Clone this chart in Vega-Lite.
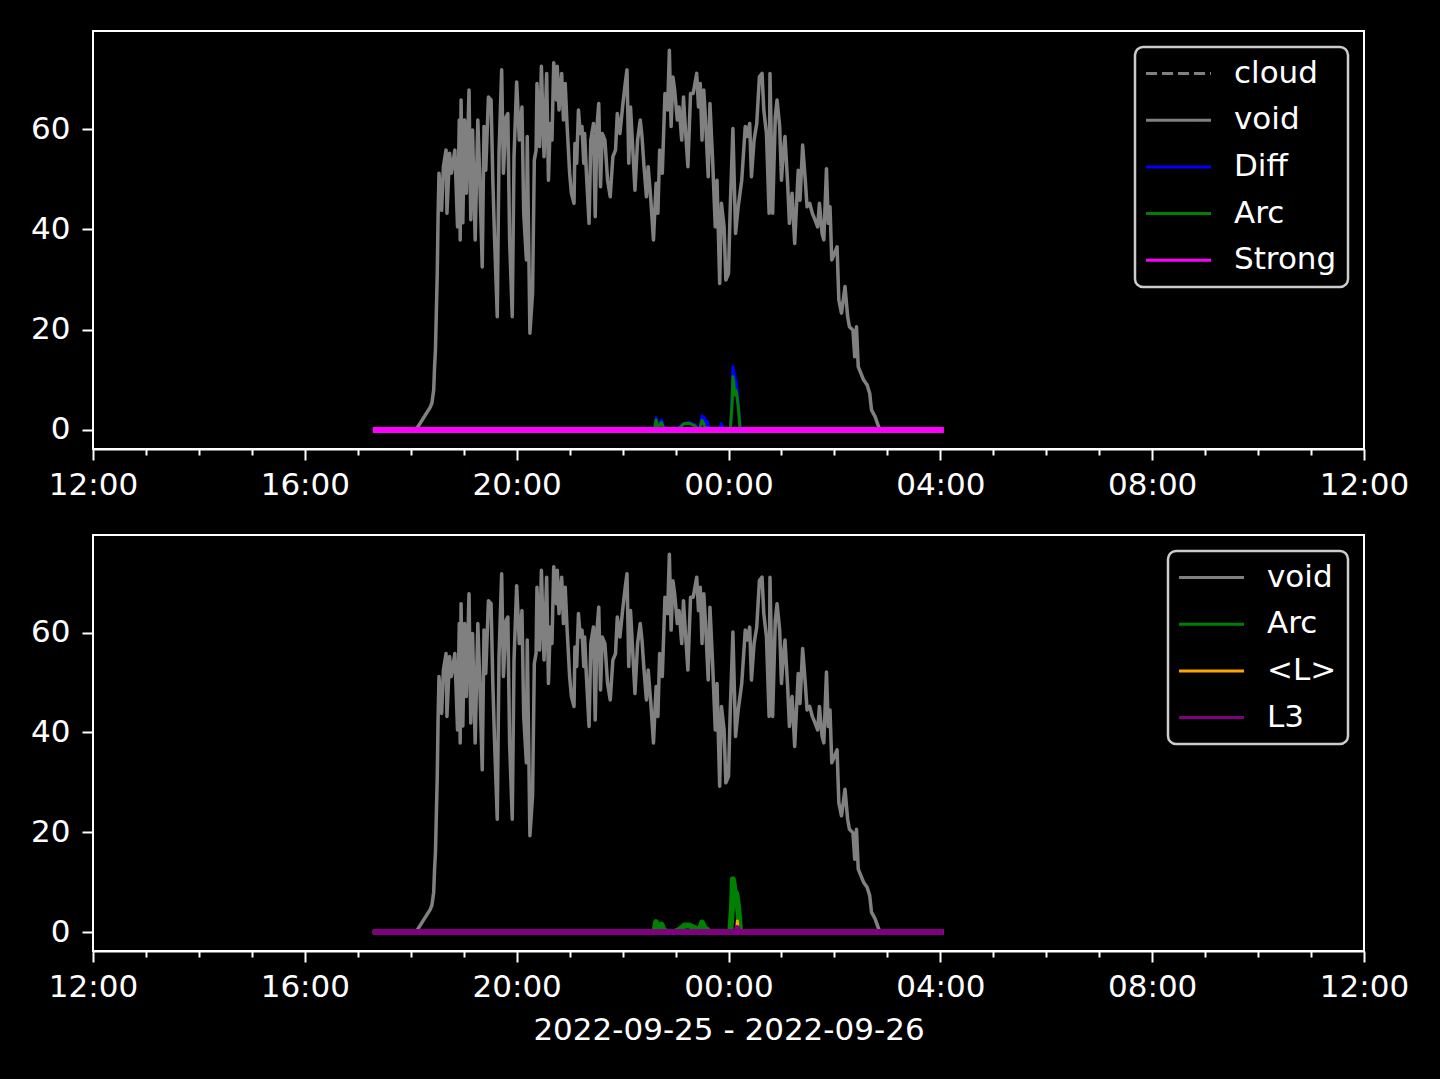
{
  "$schema": "https://vega.github.io/schema/vega-lite/v6.json",
  "background": "#000000",
  "padding": {"left": 29, "top": 30, "right": 30, "bottom": 33},
  "datasets": {
    "s_void": [
      {"t":"2022-09-25T18:05:00Z","v":0,"series":"void"},
      {"t":"2022-09-25T18:08:00Z","v":0.6,"series":"void"},
      {"t":"2022-09-25T18:13:00Z","v":2.0,"series":"void"},
      {"t":"2022-09-25T18:18:00Z","v":3.4,"series":"void"},
      {"t":"2022-09-25T18:22:00Z","v":4.5,"series":"void"},
      {"t":"2022-09-25T18:24:00Z","v":5.4,"series":"void"},
      {"t":"2022-09-25T18:26:00Z","v":8.0,"series":"void"},
      {"t":"2022-09-25T18:27:00Z","v":12.6,"series":"void"},
      {"t":"2022-09-25T18:28:00Z","v":16.0,"series":"void"},
      {"t":"2022-09-25T18:30:00Z","v":31.0,"series":"void"},
      {"t":"2022-09-25T18:31:00Z","v":43.0,"series":"void"},
      {"t":"2022-09-25T18:32:00Z","v":51.2,"series":"void"},
      {"t":"2022-09-25T18:35:00Z","v":43.8,"series":"void"},
      {"t":"2022-09-25T18:37:00Z","v":52.5,"series":"void"},
      {"t":"2022-09-25T18:40:00Z","v":55.8,"series":"void"},
      {"t":"2022-09-25T18:41:00Z","v":43.2,"series":"void"},
      {"t":"2022-09-25T18:44:00Z","v":55.2,"series":"void"},
      {"t":"2022-09-25T18:46:00Z","v":51.2,"series":"void"},
      {"t":"2022-09-25T18:50:00Z","v":55.8,"series":"void"},
      {"t":"2022-09-25T18:53:00Z","v":40.5,"series":"void"},
      {"t":"2022-09-25T18:55:00Z","v":61.8,"series":"void"},
      {"t":"2022-09-25T18:56:00Z","v":37.9,"series":"void"},
      {"t":"2022-09-25T18:57:00Z","v":65.8,"series":"void"},
      {"t":"2022-09-25T18:59:00Z","v":41.3,"series":"void"},
      {"t":"2022-09-25T19:01:00Z","v":61.8,"series":"void"},
      {"t":"2022-09-25T19:03:00Z","v":47.2,"series":"void"},
      {"t":"2022-09-25T19:06:00Z","v":67.8,"series":"void"},
      {"t":"2022-09-25T19:08:00Z","v":41.9,"series":"void"},
      {"t":"2022-09-25T19:10:00Z","v":59.8,"series":"void"},
      {"t":"2022-09-25T19:13:00Z","v":37.9,"series":"void"},
      {"t":"2022-09-25T19:16:00Z","v":61.8,"series":"void"},
      {"t":"2022-09-25T19:18:00Z","v":51.2,"series":"void"},
      {"t":"2022-09-25T19:21:00Z","v":32.5,"series":"void"},
      {"t":"2022-09-25T19:23:00Z","v":60.5,"series":"void"},
      {"t":"2022-09-25T19:25:00Z","v":51.8,"series":"void"},
      {"t":"2022-09-25T19:28:00Z","v":66.4,"series":"void"},
      {"t":"2022-09-25T19:31:00Z","v":65.8,"series":"void"},
      {"t":"2022-09-25T19:33:00Z","v":49.8,"series":"void"},
      {"t":"2022-09-25T19:35:00Z","v":37.9,"series":"void"},
      {"t":"2022-09-25T19:38:00Z","v":22.6,"series":"void"},
      {"t":"2022-09-25T19:40:00Z","v":55.2,"series":"void"},
      {"t":"2022-09-25T19:43:00Z","v":71.8,"series":"void"},
      {"t":"2022-09-25T19:45:00Z","v":51.2,"series":"void"},
      {"t":"2022-09-25T19:48:00Z","v":62.4,"series":"void"},
      {"t":"2022-09-25T19:50:00Z","v":63.1,"series":"void"},
      {"t":"2022-09-25T19:52:00Z","v":37.9,"series":"void"},
      {"t":"2022-09-25T19:55:00Z","v":22.6,"series":"void"},
      {"t":"2022-09-25T19:57:00Z","v":54.5,"series":"void"},
      {"t":"2022-09-25T20:00:00Z","v":69.4,"series":"void"},
      {"t":"2022-09-25T20:03:00Z","v":57.8,"series":"void"},
      {"t":"2022-09-25T20:06:00Z","v":64.4,"series":"void"},
      {"t":"2022-09-25T20:08:00Z","v":43.2,"series":"void"},
      {"t":"2022-09-25T20:11:00Z","v":33.9,"series":"void"},
      {"t":"2022-09-25T20:12:00Z","v":58.5,"series":"void"},
      {"t":"2022-09-25T20:15:00Z","v":19.3,"series":"void"},
      {"t":"2022-09-25T20:18:00Z","v":27.3,"series":"void"},
      {"t":"2022-09-25T20:20:00Z","v":53.8,"series":"void"},
      {"t":"2022-09-25T20:22:00Z","v":55.8,"series":"void"},
      {"t":"2022-09-25T20:23:00Z","v":69.1,"series":"void"},
      {"t":"2022-09-25T20:26:00Z","v":56.5,"series":"void"},
      {"t":"2022-09-25T20:28:00Z","v":72.5,"series":"void"},
      {"t":"2022-09-25T20:31:00Z","v":54.5,"series":"void"},
      {"t":"2022-09-25T20:34:00Z","v":71.1,"series":"void"},
      {"t":"2022-09-25T20:36:00Z","v":49.8,"series":"void"},
      {"t":"2022-09-25T20:38:00Z","v":61.1,"series":"void"},
      {"t":"2022-09-25T20:40:00Z","v":57.8,"series":"void"},
      {"t":"2022-09-25T20:42:00Z","v":73.2,"series":"void"},
      {"t":"2022-09-25T20:45:00Z","v":65.8,"series":"void"},
      {"t":"2022-09-25T20:46:00Z","v":72.5,"series":"void"},
      {"t":"2022-09-25T20:48:00Z","v":63.8,"series":"void"},
      {"t":"2022-09-25T20:51:00Z","v":71.1,"series":"void"},
      {"t":"2022-09-25T20:53:00Z","v":61.8,"series":"void"},
      {"t":"2022-09-25T20:55:00Z","v":69.1,"series":"void"},
      {"t":"2022-09-25T20:57:00Z","v":61.1,"series":"void"},
      {"t":"2022-09-25T21:00:00Z","v":51.2,"series":"void"},
      {"t":"2022-09-25T21:02:00Z","v":47.2,"series":"void"},
      {"t":"2022-09-25T21:05:00Z","v":45.2,"series":"void"},
      {"t":"2022-09-25T21:06:00Z","v":57.1,"series":"void"},
      {"t":"2022-09-25T21:08:00Z","v":53.2,"series":"void"},
      {"t":"2022-09-25T21:10:00Z","v":63.8,"series":"void"},
      {"t":"2022-09-25T21:12:00Z","v":59.1,"series":"void"},
      {"t":"2022-09-25T21:14:00Z","v":60.5,"series":"void"},
      {"t":"2022-09-25T21:16:00Z","v":53.2,"series":"void"},
      {"t":"2022-09-25T21:17:00Z","v":59.1,"series":"void"},
      {"t":"2022-09-25T21:19:00Z","v":51.2,"series":"void"},
      {"t":"2022-09-25T21:22:00Z","v":41.2,"series":"void"},
      {"t":"2022-09-25T21:24:00Z","v":57.8,"series":"void"},
      {"t":"2022-09-25T21:27:00Z","v":61.1,"series":"void"},
      {"t":"2022-09-25T21:29:00Z","v":42.5,"series":"void"},
      {"t":"2022-09-25T21:31:00Z","v":60.5,"series":"void"},
      {"t":"2022-09-25T21:33:00Z","v":65.1,"series":"void"},
      {"t":"2022-09-25T21:35:00Z","v":48.5,"series":"void"},
      {"t":"2022-09-25T21:37:00Z","v":59.1,"series":"void"},
      {"t":"2022-09-25T21:40:00Z","v":57.8,"series":"void"},
      {"t":"2022-09-25T21:43:00Z","v":49.8,"series":"void"},
      {"t":"2022-09-25T21:46:00Z","v":46.5,"series":"void"},
      {"t":"2022-09-25T21:49:00Z","v":54.5,"series":"void"},
      {"t":"2022-09-25T21:52:00Z","v":55.8,"series":"void"},
      {"t":"2022-09-25T21:54:00Z","v":63.1,"series":"void"},
      {"t":"2022-09-25T21:57:00Z","v":59.1,"series":"void"},
      {"t":"2022-09-25T22:00:00Z","v":64.4,"series":"void"},
      {"t":"2022-09-25T22:03:00Z","v":69.1,"series":"void"},
      {"t":"2022-09-25T22:05:00Z","v":71.8,"series":"void"},
      {"t":"2022-09-25T22:07:00Z","v":53.2,"series":"void"},
      {"t":"2022-09-25T22:09:00Z","v":64.4,"series":"void"},
      {"t":"2022-09-25T22:12:00Z","v":54.5,"series":"void"},
      {"t":"2022-09-25T22:14:00Z","v":47.8,"series":"void"},
      {"t":"2022-09-25T22:17:00Z","v":57.8,"series":"void"},
      {"t":"2022-09-25T22:20:00Z","v":61.8,"series":"void"},
      {"t":"2022-09-25T22:22:00Z","v":58.5,"series":"void"},
      {"t":"2022-09-25T22:24:00Z","v":53.2,"series":"void"},
      {"t":"2022-09-25T22:27:00Z","v":46.5,"series":"void"},
      {"t":"2022-09-25T22:29:00Z","v":52.5,"series":"void"},
      {"t":"2022-09-25T22:32:00Z","v":45.8,"series":"void"},
      {"t":"2022-09-25T22:35:00Z","v":37.9,"series":"void"},
      {"t":"2022-09-25T22:38:00Z","v":49.2,"series":"void"},
      {"t":"2022-09-25T22:40:00Z","v":43.2,"series":"void"},
      {"t":"2022-09-25T22:42:00Z","v":55.8,"series":"void"},
      {"t":"2022-09-25T22:45:00Z","v":51.2,"series":"void"},
      {"t":"2022-09-25T22:48:00Z","v":67.1,"series":"void"},
      {"t":"2022-09-25T22:51:00Z","v":63.8,"series":"void"},
      {"t":"2022-09-25T22:53:00Z","v":75.7,"series":"void"},
      {"t":"2022-09-25T22:55:00Z","v":60.5,"series":"void"},
      {"t":"2022-09-25T22:57:00Z","v":70.4,"series":"void"},
      {"t":"2022-09-25T22:59:00Z","v":67.8,"series":"void"},
      {"t":"2022-09-25T23:02:00Z","v":61.8,"series":"void"},
      {"t":"2022-09-25T23:04:00Z","v":64.4,"series":"void"},
      {"t":"2022-09-25T23:07:00Z","v":57.8,"series":"void"},
      {"t":"2022-09-25T23:09:00Z","v":66.4,"series":"void"},
      {"t":"2022-09-25T23:11:00Z","v":60.5,"series":"void"},
      {"t":"2022-09-25T23:14:00Z","v":52.5,"series":"void"},
      {"t":"2022-09-25T23:17:00Z","v":67.1,"series":"void"},
      {"t":"2022-09-25T23:20:00Z","v":67.1,"series":"void"},
      {"t":"2022-09-25T23:24:00Z","v":71.1,"series":"void"},
      {"t":"2022-09-25T23:26:00Z","v":64.4,"series":"void"},
      {"t":"2022-09-25T23:28:00Z","v":69.1,"series":"void"},
      {"t":"2022-09-25T23:30:00Z","v":57.8,"series":"void"},
      {"t":"2022-09-25T23:32:00Z","v":67.8,"series":"void"},
      {"t":"2022-09-25T23:34:00Z","v":61.8,"series":"void"},
      {"t":"2022-09-25T23:37:00Z","v":50.5,"series":"void"},
      {"t":"2022-09-25T23:39:00Z","v":65.1,"series":"void"},
      {"t":"2022-09-25T23:42:00Z","v":53.8,"series":"void"},
      {"t":"2022-09-25T23:45:00Z","v":40.5,"series":"void"},
      {"t":"2022-09-25T23:47:00Z","v":49.8,"series":"void"},
      {"t":"2022-09-25T23:50:00Z","v":29.2,"series":"void"},
      {"t":"2022-09-25T23:52:00Z","v":45.2,"series":"void"},
      {"t":"2022-09-25T23:55:00Z","v":40.5,"series":"void"},
      {"t":"2022-09-25T23:57:00Z","v":29.9,"series":"void"},
      {"t":"2022-09-26T00:00:00Z","v":31.2,"series":"void"},
      {"t":"2022-09-26T00:02:00Z","v":44.5,"series":"void"},
      {"t":"2022-09-26T00:05:00Z","v":60.1,"series":"void"},
      {"t":"2022-09-26T00:08:00Z","v":39.2,"series":"void"},
      {"t":"2022-09-26T00:11:00Z","v":44.5,"series":"void"},
      {"t":"2022-09-26T00:15:00Z","v":49.8,"series":"void"},
      {"t":"2022-09-26T00:19:00Z","v":60.5,"series":"void"},
      {"t":"2022-09-26T00:21:00Z","v":58.5,"series":"void"},
      {"t":"2022-09-26T00:24:00Z","v":61.1,"series":"void"},
      {"t":"2022-09-26T00:26:00Z","v":50.5,"series":"void"},
      {"t":"2022-09-26T00:29:00Z","v":57.8,"series":"void"},
      {"t":"2022-09-26T00:32:00Z","v":61.1,"series":"void"},
      {"t":"2022-09-26T00:35:00Z","v":70.4,"series":"void"},
      {"t":"2022-09-26T00:38:00Z","v":71.1,"series":"void"},
      {"t":"2022-09-26T00:40:00Z","v":63.8,"series":"void"},
      {"t":"2022-09-26T00:43:00Z","v":59.1,"series":"void"},
      {"t":"2022-09-26T00:46:00Z","v":43.2,"series":"void"},
      {"t":"2022-09-26T00:47:00Z","v":71.1,"series":"void"},
      {"t":"2022-09-26T00:50:00Z","v":43.2,"series":"void"},
      {"t":"2022-09-26T00:53:00Z","v":62.4,"series":"void"},
      {"t":"2022-09-26T00:55:00Z","v":65.8,"series":"void"},
      {"t":"2022-09-26T00:58:00Z","v":60.5,"series":"void"},
      {"t":"2022-09-26T01:00:00Z","v":49.8,"series":"void"},
      {"t":"2022-09-26T01:02:00Z","v":55.2,"series":"void"},
      {"t":"2022-09-26T01:04:00Z","v":58.5,"series":"void"},
      {"t":"2022-09-26T01:07:00Z","v":49.2,"series":"void"},
      {"t":"2022-09-26T01:09:00Z","v":41.2,"series":"void"},
      {"t":"2022-09-26T01:12:00Z","v":47.2,"series":"void"},
      {"t":"2022-09-26T01:15:00Z","v":37.2,"series":"void"},
      {"t":"2022-09-26T01:19:00Z","v":51.8,"series":"void"},
      {"t":"2022-09-26T01:21:00Z","v":45.8,"series":"void"},
      {"t":"2022-09-26T01:24:00Z","v":56.8,"series":"void"},
      {"t":"2022-09-26T01:27:00Z","v":49.8,"series":"void"},
      {"t":"2022-09-26T01:29:00Z","v":44.5,"series":"void"},
      {"t":"2022-09-26T01:32:00Z","v":45.2,"series":"void"},
      {"t":"2022-09-26T01:35:00Z","v":43.2,"series":"void"},
      {"t":"2022-09-26T01:38:00Z","v":41.9,"series":"void"},
      {"t":"2022-09-26T01:41:00Z","v":40.5,"series":"void"},
      {"t":"2022-09-26T01:43:00Z","v":45.2,"series":"void"},
      {"t":"2022-09-26T01:46:00Z","v":39.2,"series":"void"},
      {"t":"2022-09-26T01:48:00Z","v":37.9,"series":"void"},
      {"t":"2022-09-26T01:51:00Z","v":52.1,"series":"void"},
      {"t":"2022-09-26T01:53:00Z","v":41.2,"series":"void"},
      {"t":"2022-09-26T01:55:00Z","v":44.5,"series":"void"},
      {"t":"2022-09-26T01:57:00Z","v":33.9,"series":"void"},
      {"t":"2022-09-26T02:00:00Z","v":35.2,"series":"void"},
      {"t":"2022-09-26T02:03:00Z","v":36.5,"series":"void"},
      {"t":"2022-09-26T02:05:00Z","v":25.9,"series":"void"},
      {"t":"2022-09-26T02:08:00Z","v":23.3,"series":"void"},
      {"t":"2022-09-26T02:12:00Z","v":28.6,"series":"void"},
      {"t":"2022-09-26T02:15:00Z","v":22.6,"series":"void"},
      {"t":"2022-09-26T02:17:00Z","v":20.6,"series":"void"},
      {"t":"2022-09-26T02:21:00Z","v":19.9,"series":"void"},
      {"t":"2022-09-26T02:23:00Z","v":14.6,"series":"void"},
      {"t":"2022-09-26T02:25:00Z","v":20.6,"series":"void"},
      {"t":"2022-09-26T02:27:00Z","v":12.6,"series":"void"},
      {"t":"2022-09-26T02:30:00Z","v":11.3,"series":"void"},
      {"t":"2022-09-26T02:33:00Z","v":10.0,"series":"void"},
      {"t":"2022-09-26T02:37:00Z","v":9.0,"series":"void"},
      {"t":"2022-09-26T02:40:00Z","v":7.3,"series":"void"},
      {"t":"2022-09-26T02:42:00Z","v":4.0,"series":"void"},
      {"t":"2022-09-26T02:46:00Z","v":2.7,"series":"void"},
      {"t":"2022-09-26T02:50:00Z","v":0.7,"series":"void"},
      {"t":"2022-09-26T02:52:00Z","v":0,"series":"void"}
    ],
    "s_diff": [
      {"t":"2022-09-25T17:17:00Z","v":0,"series":"Diff"},
      {"t":"2022-09-25T22:36:00Z","v":0,"series":"Diff"},
      {"t":"2022-09-25T22:38:00Z","v":2.5,"series":"Diff"},
      {"t":"2022-09-25T22:40:00Z","v":0.5,"series":"Diff"},
      {"t":"2022-09-25T22:44:00Z","v":2.0,"series":"Diff"},
      {"t":"2022-09-25T22:47:00Z","v":0.5,"series":"Diff"},
      {"t":"2022-09-25T22:50:00Z","v":0.2,"series":"Diff"},
      {"t":"2022-09-25T22:59:00Z","v":0,"series":"Diff"},
      {"t":"2022-09-25T23:04:00Z","v":0.6,"series":"Diff"},
      {"t":"2022-09-25T23:10:00Z","v":1.3,"series":"Diff"},
      {"t":"2022-09-25T23:16:00Z","v":1.5,"series":"Diff"},
      {"t":"2022-09-25T23:22:00Z","v":1.0,"series":"Diff"},
      {"t":"2022-09-25T23:27:00Z","v":0,"series":"Diff"},
      {"t":"2022-09-25T23:30:00Z","v":2.8,"series":"Diff"},
      {"t":"2022-09-25T23:33:00Z","v":2.4,"series":"Diff"},
      {"t":"2022-09-25T23:35:00Z","v":0.3,"series":"Diff"},
      {"t":"2022-09-25T23:36:00Z","v":1.7,"series":"Diff"},
      {"t":"2022-09-25T23:38:00Z","v":0,"series":"Diff"},
      {"t":"2022-09-25T23:50:00Z","v":0,"series":"Diff"},
      {"t":"2022-09-25T23:52:00Z","v":1.3,"series":"Diff"},
      {"t":"2022-09-25T23:53:00Z","v":0,"series":"Diff"},
      {"t":"2022-09-26T00:02:00Z","v":0,"series":"Diff"},
      {"t":"2022-09-26T00:04:00Z","v":6.0,"series":"Diff"},
      {"t":"2022-09-26T00:05:00Z","v":12.6,"series":"Diff"},
      {"t":"2022-09-26T00:07:00Z","v":10.8,"series":"Diff"},
      {"t":"2022-09-26T00:09:00Z","v":9.3,"series":"Diff"},
      {"t":"2022-09-26T00:11:00Z","v":5.3,"series":"Diff"},
      {"t":"2022-09-26T00:13:00Z","v":1.0,"series":"Diff"},
      {"t":"2022-09-26T00:14:00Z","v":0,"series":"Diff"},
      {"t":"2022-09-26T04:04:00Z","v":0,"series":"Diff"}
    ],
    "s_arc": [
      {"t":"2022-09-25T17:17:00Z","v":0,"series":"Arc"},
      {"t":"2022-09-25T22:36:00Z","v":0,"series":"Arc"},
      {"t":"2022-09-25T22:38:00Z","v":2.0,"series":"Arc"},
      {"t":"2022-09-25T22:40:00Z","v":0.3,"series":"Arc"},
      {"t":"2022-09-25T22:44:00Z","v":1.5,"series":"Arc"},
      {"t":"2022-09-25T22:46:00Z","v":0.6,"series":"Arc"},
      {"t":"2022-09-25T22:49:00Z","v":0.1,"series":"Arc"},
      {"t":"2022-09-25T22:59:00Z","v":0,"series":"Arc"},
      {"t":"2022-09-25T23:05:00Z","v":0.5,"series":"Arc"},
      {"t":"2022-09-25T23:10:00Z","v":1.3,"series":"Arc"},
      {"t":"2022-09-25T23:16:00Z","v":1.3,"series":"Arc"},
      {"t":"2022-09-25T23:22:00Z","v":0.8,"series":"Arc"},
      {"t":"2022-09-25T23:27:00Z","v":0,"series":"Arc"},
      {"t":"2022-09-25T23:30:00Z","v":1.9,"series":"Arc"},
      {"t":"2022-09-25T23:32:00Z","v":1.2,"series":"Arc"},
      {"t":"2022-09-25T23:34:00Z","v":0,"series":"Arc"},
      {"t":"2022-09-25T23:36:00Z","v":0.5,"series":"Arc"},
      {"t":"2022-09-25T23:37:00Z","v":0,"series":"Arc"},
      {"t":"2022-09-26T00:02:00Z","v":0,"series":"Arc"},
      {"t":"2022-09-26T00:04:00Z","v":5.0,"series":"Arc"},
      {"t":"2022-09-26T00:05:00Z","v":10.6,"series":"Arc"},
      {"t":"2022-09-26T00:06:00Z","v":9.5,"series":"Arc"},
      {"t":"2022-09-26T00:07:00Z","v":7.0,"series":"Arc"},
      {"t":"2022-09-26T00:08:00Z","v":8.0,"series":"Arc"},
      {"t":"2022-09-26T00:09:00Z","v":7.5,"series":"Arc"},
      {"t":"2022-09-26T00:11:00Z","v":4.7,"series":"Arc"},
      {"t":"2022-09-26T00:13:00Z","v":0.5,"series":"Arc"},
      {"t":"2022-09-26T00:14:00Z","v":0,"series":"Arc"},
      {"t":"2022-09-26T04:04:00Z","v":0,"series":"Arc"}
    ],
    "s_strong": [
      {"t":"2022-09-25T17:17:00Z","v":0,"series":"Strong"},
      {"t":"2022-09-26T04:04:00Z","v":0,"series":"Strong"}
    ],
    "s_lavg": [
      {"t":"2022-09-25T17:17:00Z","v":0,"series":"<L>"},
      {"t":"2022-09-26T00:09:00Z","v":0,"series":"<L>"},
      {"t":"2022-09-26T00:10:00Z","v":2.2,"series":"<L>"},
      {"t":"2022-09-26T00:11:00Z","v":0,"series":"<L>"},
      {"t":"2022-09-26T04:04:00Z","v":0,"series":"<L>"}
    ],
    "s_l3": [
      {"t":"2022-09-25T17:17:00Z","v":0,"series":"L3"},
      {"t":"2022-09-26T00:09:00Z","v":0,"series":"L3"},
      {"t":"2022-09-26T00:10:00Z","v":0.8,"series":"L3"},
      {"t":"2022-09-26T00:11:00Z","v":0,"series":"L3"},
      {"t":"2022-09-26T04:04:00Z","v":0,"series":"L3"}
    ]
  },
  "config": {
    "font": "DejaVu Sans",
    "view": {"stroke": "#ffffff", "strokeWidth": 2},
    "axis": {
      "domainColor": "#ffffff", "domainWidth": 2, "tickColor": "#ffffff", "tickWidth": 2,
      "labelColor": "#ffffff", "labelFont": "DejaVu Sans", "labelFontSize": 31,
      "titleColor": "#ffffff", "titleFont": "DejaVu Sans", "titleFontSize": 31, "titleFontWeight": "normal",
      "grid": false
    },
    "legend": {
      "orient": "top-right", "offset": 16, "padding": 11,
      "fillColor": "#000000", "strokeColor": "#cccccc", "strokeWidth": 2.5, "cornerRadius": 8,
      "labelFont": "DejaVu Sans", "labelFontSize": 31, "labelColor": "#ffffff",
      "symbolType": "M-3,0H3", "symbolSize": 469, "symbolStrokeWidth": 3, "symbolOffset": 17, "labelOffset": 40, "rowPadding": 14.7
    },
    "line": {"strokeJoin": "round"}
  },
  "vconcat": [
    {
      "width": 1271, "height": 418,
      "layer": [
        {
          "data": {"name": "s_void"},
          "mark": {"type": "line", "strokeWidth": 3.5},
          "encoding": {
            "x": {"field": "t", "type": "temporal",
              "scale": {"type": "utc", "domain": [1664107200000, 1664193600000]},
              "axis": {"title": null,
                "values": [1664107200000, 1664110800000, 1664114400000, 1664118000000, 1664121600000, 1664125200000, 1664128800000, 1664132400000, 1664136000000, 1664139600000, 1664143200000, 1664146800000, 1664150400000, 1664154000000, 1664157600000, 1664161200000, 1664164800000, 1664168400000, 1664172000000, 1664175600000, 1664179200000, 1664182800000, 1664186400000, 1664190000000, 1664193600000],
                "tickSize": {"condition": {"test": "utchours(datum.value) % 4 === 0", "value": 11}, "value": 6},
                "labelPadding": 10,
                "labelExpr": "utchours(datum.value) % 4 === 0 ? utcFormat(datum.value, '%H:%M') : ''",
                "labelFlush": false, "labelOverlap": false}},
            "y": {"field": "v", "type": "quantitative", "scale": {"domain": [-3.79, 79.55], "nice": false, "zero": false},
              "axis": {"title": null, "values": [0, 20, 40, 60], "tickSize": 11, "labelPadding": 12, "domain": false}},
            "color": {"field": "series", "type": "nominal",
              "scale": {"domain": ["cloud", "void", "Diff", "Arc", "Strong"], "range": ["#808080", "#808080", "#0000ff", "#008000", "#ff00ff"]},
              "legend": {"title": null}},
            "strokeDash": {"field": "series", "type": "nominal",
              "scale": {"domain": ["cloud", "void", "Diff", "Arc", "Strong"], "range": [[11, 5], [1, 0], [1, 0], [1, 0], [1, 0]]},
              "legend": {"title": null}}
          }
        },
        {
          "data": {"name": "s_diff"},
          "mark": {"type": "line", "strokeWidth": 3},
          "encoding": {
            "x": {"field": "t", "type": "temporal"},
            "y": {"field": "v", "type": "quantitative"},
            "color": {"field": "series", "type": "nominal", "legend": {"title": null}},
            "strokeDash": {"field": "series", "type": "nominal", "legend": {"title": null}}
          }
        },
        {
          "data": {"name": "s_arc"},
          "mark": {"type": "line", "strokeWidth": 3},
          "encoding": {
            "x": {"field": "t", "type": "temporal"},
            "y": {"field": "v", "type": "quantitative"},
            "color": {"field": "series", "type": "nominal", "legend": {"title": null}},
            "strokeDash": {"field": "series", "type": "nominal", "legend": {"title": null}}
          }
        },
        {
          "data": {"name": "s_strong"},
          "mark": {"type": "line", "strokeWidth": 6},
          "encoding": {
            "x": {"field": "t", "type": "temporal"},
            "y": {"field": "v", "type": "quantitative"},
            "color": {"field": "series", "type": "nominal", "legend": {"title": null}},
            "strokeDash": {"field": "series", "type": "nominal", "legend": {"title": null}}
          }
        }
      ]
    },
    {
      "width": 1271, "height": 416,
      "layer": [
        {
          "data": {"name": "s_void"},
          "mark": {"type": "line", "strokeWidth": 3.5},
          "encoding": {
            "x": {"field": "t", "type": "temporal",
              "scale": {"type": "utc", "domain": [1664107200000, 1664193600000]},
              "axis": {"title": "2022-09-25 - 2022-09-26", "titlePadding": 13,
                "values": [1664107200000, 1664110800000, 1664114400000, 1664118000000, 1664121600000, 1664125200000, 1664128800000, 1664132400000, 1664136000000, 1664139600000, 1664143200000, 1664146800000, 1664150400000, 1664154000000, 1664157600000, 1664161200000, 1664164800000, 1664168400000, 1664172000000, 1664175600000, 1664179200000, 1664182800000, 1664186400000, 1664190000000, 1664193600000],
                "tickSize": {"condition": {"test": "utchours(datum.value) % 4 === 0", "value": 11}, "value": 6},
                "labelPadding": 10,
                "labelExpr": "utchours(datum.value) % 4 === 0 ? utcFormat(datum.value, '%H:%M') : ''",
                "labelFlush": false, "labelOverlap": false}},
            "y": {"field": "v", "type": "quantitative", "scale": {"domain": [-3.79, 79.55], "nice": false, "zero": false},
              "axis": {"title": null, "values": [0, 20, 40, 60], "tickSize": 11, "labelPadding": 12, "domain": false}},
            "color": {"field": "series", "type": "nominal",
              "scale": {"domain": ["void", "Arc", "<L>", "L3"], "range": ["#808080", "#008000", "#ffa500", "#800080"]},
              "legend": {"title": null}}
          }
        },
        {
          "data": {"name": "s_arc"},
          "mark": {"type": "line", "strokeWidth": 6},
          "encoding": {
            "x": {"field": "t", "type": "temporal"},
            "y": {"field": "v", "type": "quantitative"},
            "color": {"field": "series", "type": "nominal", "legend": {"title": null}}
          }
        },
        {
          "data": {"name": "s_lavg"},
          "mark": {"type": "line", "strokeWidth": 3},
          "encoding": {
            "x": {"field": "t", "type": "temporal"},
            "y": {"field": "v", "type": "quantitative"},
            "color": {"field": "series", "type": "nominal", "legend": {"title": null}}
          }
        },
        {
          "data": {"name": "s_l3"},
          "mark": {"type": "line", "strokeWidth": 6},
          "encoding": {
            "x": {"field": "t", "type": "temporal"},
            "y": {"field": "v", "type": "quantitative"},
            "color": {"field": "series", "type": "nominal", "legend": {"title": null}}
          }
        }
      ]
    }
  ],
  "spacing": 33,
  "resolve": {
    "scale": {"color": "independent", "strokeDash": "independent"},
    "legend": {"color": "independent", "strokeDash": "independent"}
  }
}
